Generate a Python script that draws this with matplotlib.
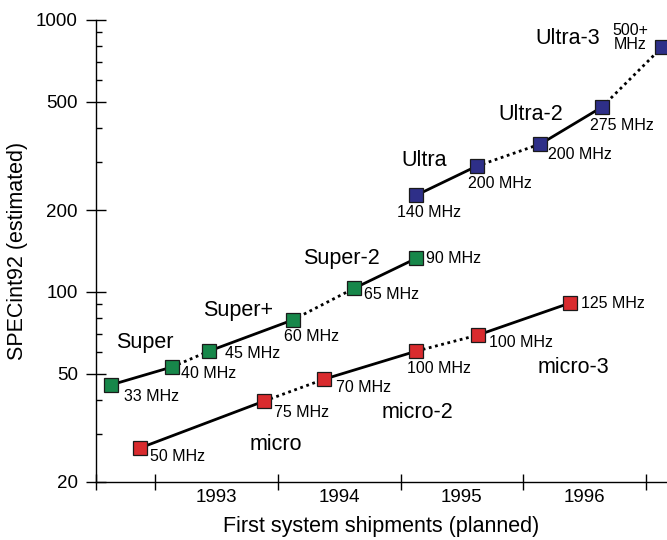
import matplotlib
matplotlib.use("Agg")
import matplotlib.pyplot as plt
from matplotlib.ticker import FixedLocator, NullFormatter

plt.rcParams['font.family'] = ['Liberation Sans', 'DejaVu Sans']

# Datos (x = fecha de envio en anos, y = SPECint92)
super_x = [1992.64, 1993.14, 1993.44, 1994.12, 1994.62, 1995.13]
super_y = [45.5, 53, 60.6, 78.8, 103, 133]
super_mhz = ['33 MHz', '40 MHz', '45 MHz', '60 MHz', '65 MHz', '90 MHz']
super_seg = ['-', ':', '-', ':', '-']

ultra_x = [1995.13, 1995.62, 1996.14, 1996.64, 1997.13]
ultra_y = [227, 290, 350, 478, 794]
ultra_mhz = ['140 MHz', '200 MHz', '200 MHz', '275 MHz', '500+\nMHz']
ultra_seg = ['-', ':', '-', ':']

micro_x = [1992.88, 1993.89, 1994.38, 1995.13, 1995.63, 1996.38]
micro_y = [26.7, 39.7, 47.8, 60.6, 69.4, 91]
micro_mhz = ['50 MHz', '75 MHz', '70 MHz', '100 MHz', '100 MHz', '125 MHz']
micro_seg = ['-', ':', '-', ':', '-']

prod_names = ['Super', 'Super+', 'Super-2', 'Ultra', 'Ultra-2', 'Ultra-3',
              'micro', 'micro-2', 'micro-3']
prod_x = [1992.92, 1993.68, 1994.52, 1995.19, 1996.06, 1996.36,
          1993.98, 1995.14, 1996.41]
prod_y = [64.9, 85.8, 133, 305, 451, 858, 27.4, 35.9, 52.9]

years = ['1993', '1994', '1995', '1996']
y_ticks = [20, 50, 100, 200, 500, 1000]
y_minor = [30, 40, 60, 70, 80, 90, 300, 400, 600, 700, 800, 900]

# desplazamiento de cada etiqueta de MHz (pixeles) y alineacion
super_off = [(13, -12, 'left'), (9, -7, 'left'), (16, -2, 'left'),
             (-9, -16, 'left'), (10, -6, 'left'), (10, 0, 'left')]
ultra_off = [(13, -17, 'center'), (23, -17, 'center'), (8, -11, 'left'),
             (-12, -18, 'left'), (-32, 10, 'center')]
micro_off = [(10, -9, 'left'), (10, -11, 'left'), (12, -8, 'left'),
             (-9, -17, 'left'), (11, -7, 'left'), (11, 0, 'left')]

series = [
    (super_x, super_y, super_mhz, super_seg, super_off, '#17874a'),
    (ultra_x, ultra_y, ultra_mhz, ultra_seg, ultra_off, '#2e2f88'),
    (micro_x, micro_y, micro_mhz, micro_seg, micro_off, '#d92b2e'),
]

fig = plt.figure(figsize=(6.67, 5.4), dpi=100)
ax = fig.add_axes([96 / 667, 58 / 540, 571 / 667, 462 / 540])

x0, x1 = 1992.519, 1997.171
ax.set_yscale('log')
ax.set_xlim(x0, x1)
ax.set_ylim(20, 1000)

for xs, ys, mhz, segs, offs, col in series:
    for i, ls in enumerate(segs):
        ax.plot(xs[i:i + 2], ys[i:i + 2], color='black',
                linestyle='-' if ls == '-' else (0, (1, 1.3)),
                linewidth=2.0, zorder=2, clip_on=False)
    ax.plot(xs, ys, linestyle='none', marker='s', markersize=10,
            markerfacecolor=col, markeredgecolor='#1a1a1a',
            markeredgewidth=0.9, zorder=3, clip_on=False)
    for xi, yi, lab, (dx, dy, ha) in zip(xs, ys, mhz, offs):
        ax.annotate(lab, (xi, yi), xytext=(dx, dy), textcoords='offset pixels',
                    ha=ha, va='center', fontsize=11.5, linespacing=0.95,
                    annotation_clip=False)

for name, px, py in zip(prod_names, prod_x, prod_y):
    ax.text(px, py, name, ha='center', va='center', fontsize=15.5)

ax.spines['top'].set_visible(False)
ax.spines['right'].set_visible(False)
ax.spines['left'].set_linewidth(1.0)
ax.spines['bottom'].set_linewidth(1.0)

ax.yaxis.set_major_locator(FixedLocator(y_ticks))
ax.set_yticklabels([str(v) for v in y_ticks])
ax.yaxis.set_minor_locator(FixedLocator(y_minor))
ax.yaxis.set_minor_formatter(NullFormatter())
ax.tick_params(axis='y', which='major', direction='inout', length=14,
               width=1.0, labelsize=13.5, pad=6)
ax.tick_params(axis='y', which='minor', direction='in', length=4.5, width=1.0)

ax.set_xticks([x0, 1993, 1994, 1995, 1996, 1997])
ax.set_xticklabels([])
ax.set_xticks([1993.5, 1994.5, 1995.5, 1996.5], minor=True)
ax.set_xticklabels(years, minor=True)
ax.tick_params(axis='x', which='major', direction='inout', length=12, width=1.0)
ax.tick_params(axis='x', which='minor', length=0, labelsize=13.5, pad=5)

ax.set_xlabel('First system shipments (planned)', fontsize=15.5, labelpad=7)
ax.set_ylabel('SPECint92 (estimated)', fontsize=15.5, labelpad=6)

fig.savefig('out.png', dpi=100)
